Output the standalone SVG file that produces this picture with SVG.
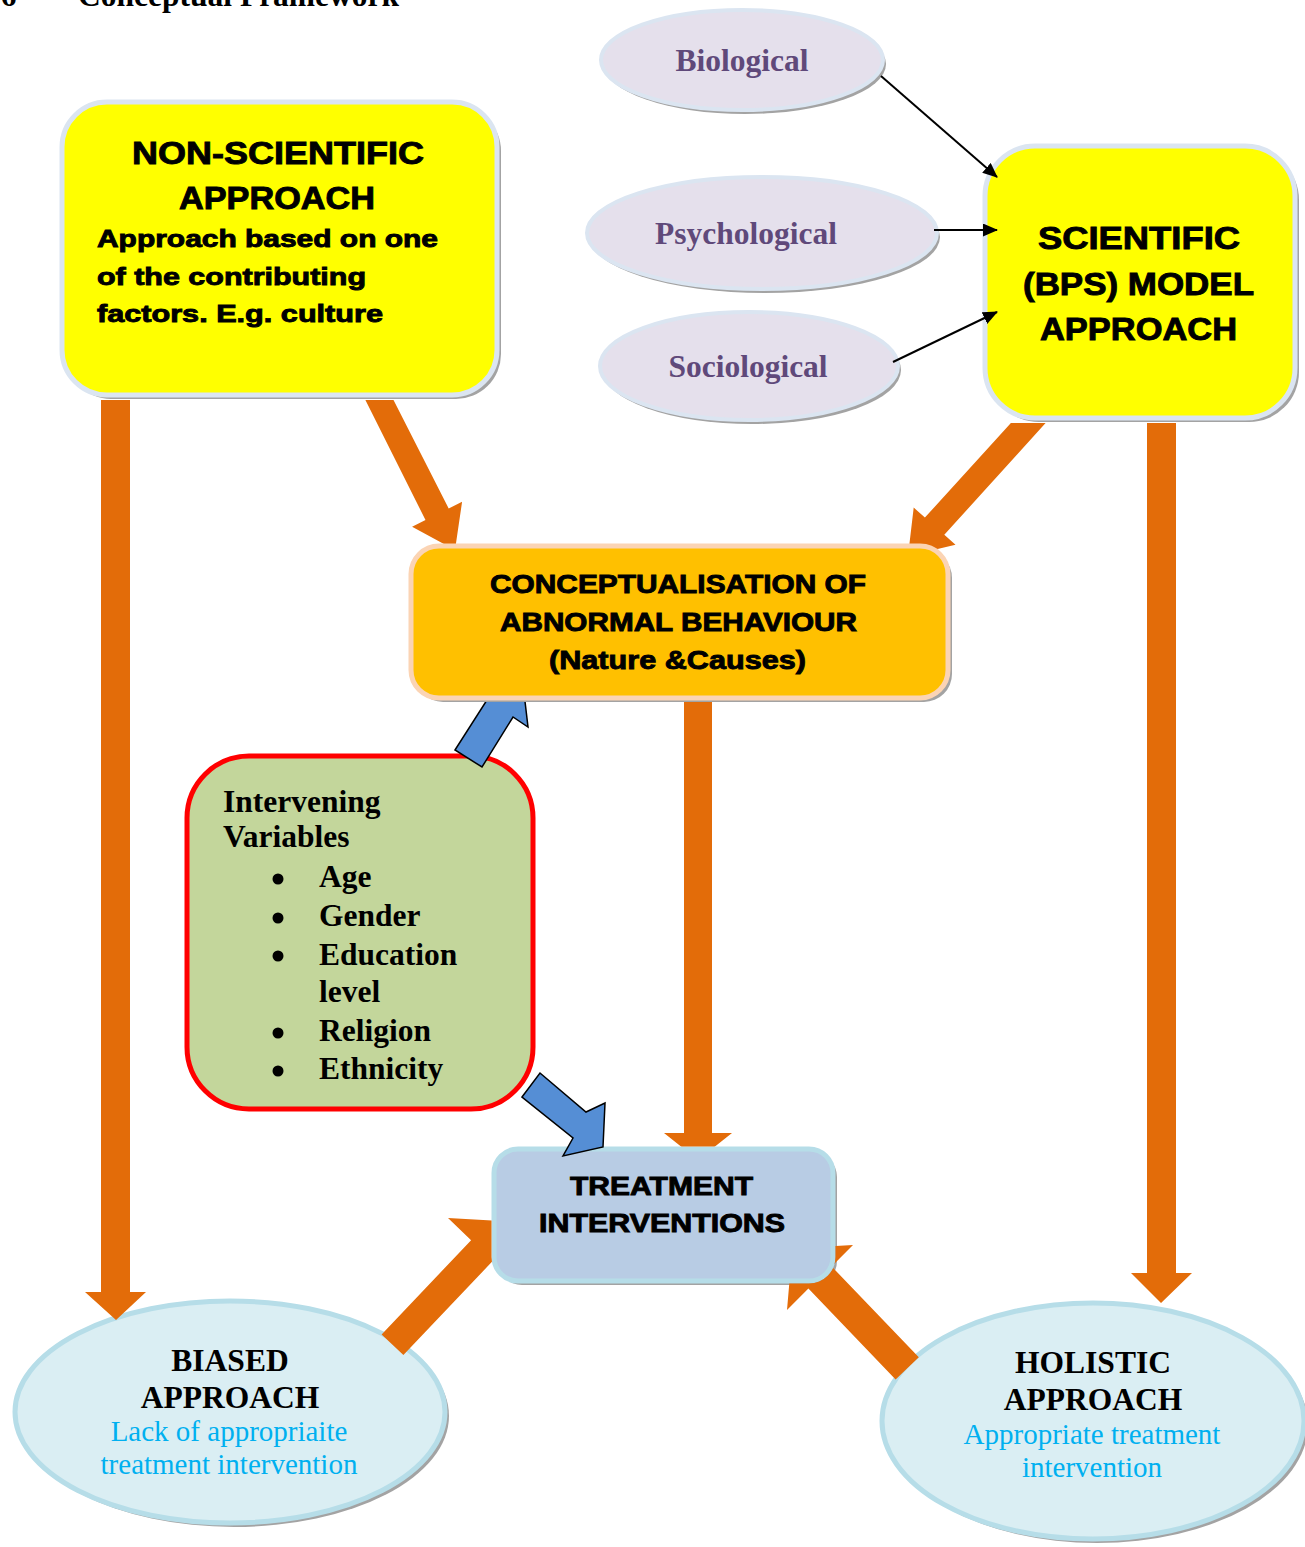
<svg xmlns="http://www.w3.org/2000/svg" width="1305" height="1547" viewBox="0 0 1305 1547">
<style>
.ser{font-family:"Liberation Serif","Times New Roman",serif;font-weight:bold;fill:#000}
.hv{font-family:"Liberation Sans",Arial,sans-serif;font-weight:bold;fill:#000;stroke:#000;stroke-width:0.9}
.pur{font-family:"Liberation Serif","Times New Roman",serif;font-weight:bold;fill:#5f497a;font-size:31.5px}
.blu{font-family:"Liberation Serif","Times New Roman",serif;fill:#00b0f0;font-size:29px}
.shd{fill:#a3a3a3}
.pel{fill:#e5e0ec;stroke:#dbe5f1;stroke-width:4}
.bel{fill:#daeef3;stroke:#b6dde8;stroke-width:5}
.org{fill:#e36c09}
.bar{fill:#558ed5;stroke:#000;stroke-width:1.5;stroke-linejoin:miter}
.blk{stroke:#000;stroke-width:2;fill:none}
</style>
<defs>
<marker id="ah" viewBox="0 0 15 13" refX="14" refY="6.5" markerWidth="15" markerHeight="13" markerUnits="userSpaceOnUse" orient="auto">
<path d="M0,0 L15,6.5 L0,13 z" fill="#000"/>
</marker>
<clipPath id="notTreat">
<path clip-rule="evenodd" d="M0,0 H1305 V1547 H0 Z M518,1146.5 H809 A26.5,26.5 0 0 1 835.5,1173 V1257 A26.5,26.5 0 0 1 809,1283.5 H518 A26.5,26.5 0 0 1 491.5,1257 V1173 A26.5,26.5 0 0 1 518,1146.5 Z"/>
</clipPath>
</defs>
<rect width="1305" height="1547" fill="#fff"/>

<g id="header">
<text class="ser" x="-23" y="6" font-size="31.5">3.6</text>
<text class="ser" x="78" y="6" font-size="31.5">Conceptual Framework</text>
</g>
<g id="caption">
<text class="ser" x="-1" y="1569" font-size="31.5">Figure 3.3: Conceptual framework</text>
</g>

<g id="biological">
<ellipse class="shd" cx="745" cy="64" rx="141" ry="50"/>
<ellipse class="pel" cx="742" cy="60" rx="141" ry="50"/>
<text class="pur" x="742" y="71" text-anchor="middle">Biological</text>
</g>
<g id="psychological">
<ellipse class="shd" cx="765" cy="237" rx="175" ry="56"/>
<ellipse class="pel" cx="762" cy="233" rx="175" ry="56"/>
<text class="pur" x="746" y="244" text-anchor="middle">Psychological</text>
</g>
<g id="sociological">
<ellipse class="shd" cx="752" cy="370" rx="149" ry="54"/>
<ellipse class="pel" cx="749" cy="366" rx="149" ry="54"/>
<text class="pur" x="748" y="377" text-anchor="middle">Sociological</text>
</g>

<g id="nonscientific">
<rect class="shd" x="66" y="106" width="435" height="293" rx="45"/>
<rect x="62" y="102" width="435" height="293" rx="45" fill="#ffff00" stroke="#dbe5f1" stroke-width="5"/>
<text class="hv" x="132" y="164" font-size="31" textLength="292" lengthAdjust="spacingAndGlyphs">NON-SCIENTIFIC</text>
<text class="hv" x="179" y="209" font-size="31" textLength="196" lengthAdjust="spacingAndGlyphs">APPROACH</text>
<text class="hv" x="97" y="247" font-size="24" textLength="341" lengthAdjust="spacingAndGlyphs">Approach based on one</text>
<text class="hv" x="97" y="285" font-size="24" textLength="269" lengthAdjust="spacingAndGlyphs">of the contributing</text>
<text class="hv" x="97" y="322" font-size="24" textLength="286" lengthAdjust="spacingAndGlyphs">factors. E.g. culture</text>
</g>

<g id="scientific">
<rect class="shd" x="989" y="150" width="310" height="272" rx="50"/>
<rect x="985" y="146" width="310" height="272" rx="50" fill="#ffff00" stroke="#dbe5f1" stroke-width="5"/>
<text class="hv" x="1038" y="249" font-size="31" textLength="202" lengthAdjust="spacingAndGlyphs">SCIENTIFIC</text>
<text class="hv" x="1023" y="295" font-size="31" textLength="231" lengthAdjust="spacingAndGlyphs">(BPS) MODEL</text>
<text class="hv" x="1040" y="340" font-size="31" textLength="197" lengthAdjust="spacingAndGlyphs">APPROACH</text>
</g>

<g id="biased">
<ellipse class="shd" cx="234" cy="1416" rx="215" ry="111"/>
<ellipse class="bel" cx="230" cy="1412" rx="215" ry="111"/>
<text class="ser" x="230" y="1371" font-size="31.5" text-anchor="middle">BIASED</text>
<text class="ser" x="230" y="1408" font-size="31.5" text-anchor="middle">APPROACH</text>
<text class="blu" x="229" y="1441" text-anchor="middle">Lack of appropriaite</text>
<text class="blu" x="229" y="1474" text-anchor="middle">treatment intervention</text>
</g>
<g id="holistic">
<ellipse class="shd" cx="1097" cy="1425" rx="211" ry="118"/>
<ellipse class="bel" cx="1093" cy="1421" rx="211" ry="118"/>
<text class="ser" x="1093" y="1373" font-size="31.5" text-anchor="middle">HOLISTIC</text>
<text class="ser" x="1093" y="1410" font-size="31.5" text-anchor="middle">APPROACH</text>
<text class="blu" x="1092" y="1444" text-anchor="middle">Appropriate treatment</text>
<text class="blu" x="1092" y="1477" text-anchor="middle">intervention</text>
</g>

<g id="intervening">
<rect x="187" y="756" width="346" height="353" rx="62" fill="#c3d69b" stroke="#ff0000" stroke-width="5"/>
<text class="ser" font-size="31.5" x="223" y="812">Intervening</text>
<text class="ser" font-size="31.5" x="223" y="847">Variables</text>
<g fill="#000">
<circle cx="278" cy="879" r="5.5"/>
<circle cx="278" cy="918" r="5.5"/>
<circle cx="278" cy="956" r="5.5"/>
<circle cx="278" cy="1033" r="5.5"/>
<circle cx="278" cy="1071" r="5.5"/>
</g>
<text class="ser" font-size="31.5" x="319" y="887">Age</text>
<text class="ser" font-size="31.5" x="319" y="926">Gender</text>
<text class="ser" font-size="31.5" x="319" y="965">Education</text>
<text class="ser" font-size="31.5" x="319" y="1002">level</text>
<text class="ser" font-size="31.5" x="319" y="1041">Religion</text>
<text class="ser" font-size="31.5" x="319" y="1079">Ethnicity</text>
</g>

<g id="treatment">
<rect class="shd" x="498" y="1153" width="339" height="132" rx="24"/>
<rect x="494" y="1149" width="339" height="132" rx="24" fill="#b8cce4" stroke="#b6dde8" stroke-width="5"/>
<text class="hv" x="570" y="1195" font-size="26" textLength="183" lengthAdjust="spacingAndGlyphs">TREATMENT</text>
<text class="hv" x="539" y="1232" font-size="26" textLength="246" lengthAdjust="spacingAndGlyphs">INTERVENTIONS</text>
</g>

<g id="connectors">
<polygon class="org" points="101,400 130,400 130,1292 146,1292 116,1320 85,1292 101,1292"/>
<polygon class="org" points="393.5,400 448.7,508.4 462.1,501.7 455,550 412.1,526.7 425.5,520 365.4,400"/>
<polygon class="org" points="1010.9,423 924.9,517.6 913.7,507.6 908,556 955.5,544.8 944.3,534.8 1045.6,423"/>
<polygon class="org" points="1147,423 1176,423 1176,1273 1192,1273 1161,1303 1131,1273 1147,1273"/>
<g clip-path="url(#notTreat)">
<polygon class="org" points="684,690 712,690 712,1133 732,1133 698,1160 664,1133 684,1133"/>
<polygon class="org" points="381.6,1334.5 471.1,1240.2 448,1218 509.5,1221.5 516,1283 492.9,1260.8 403.4,1355.1"/>
<polygon class="org" points="918.8,1357.2 831.6,1266.4 853,1245 792.3,1248.6 787,1310 808.4,1288.6 895.6,1379.4"/>
</g>
<polygon class="bar" points="455,750 487,700 473,692 522,676 528,727 513,717 482,767"/>
<polygon class="bar" points="522,1097 540,1073 586,1112 605,1103 603,1147 563,1156 573,1138"/>
<line class="blk" x1="881" y1="76" x2="997" y2="177" marker-end="url(#ah)"/>
<line class="blk" x1="934" y1="230" x2="997" y2="230" marker-end="url(#ah)"/>
<line class="blk" x1="893" y1="362" x2="997" y2="312" marker-end="url(#ah)"/>
</g>

<g id="conceptualisation">
<rect class="shd" x="415" y="550" width="537" height="152" rx="28"/>
<rect x="411" y="546" width="537" height="152" rx="28" fill="#ffc000" stroke="#fbd4b4" stroke-width="5"/>
<text class="hv" x="490" y="593" font-size="26" textLength="376" lengthAdjust="spacingAndGlyphs">CONCEPTUALISATION OF</text>
<text class="hv" x="500" y="631" font-size="26" textLength="357" lengthAdjust="spacingAndGlyphs">ABNORMAL BEHAVIOUR</text>
<text class="hv" x="549" y="669" font-size="26" textLength="257" lengthAdjust="spacingAndGlyphs">(Nature &amp;Causes)</text>
</g>
</svg>
